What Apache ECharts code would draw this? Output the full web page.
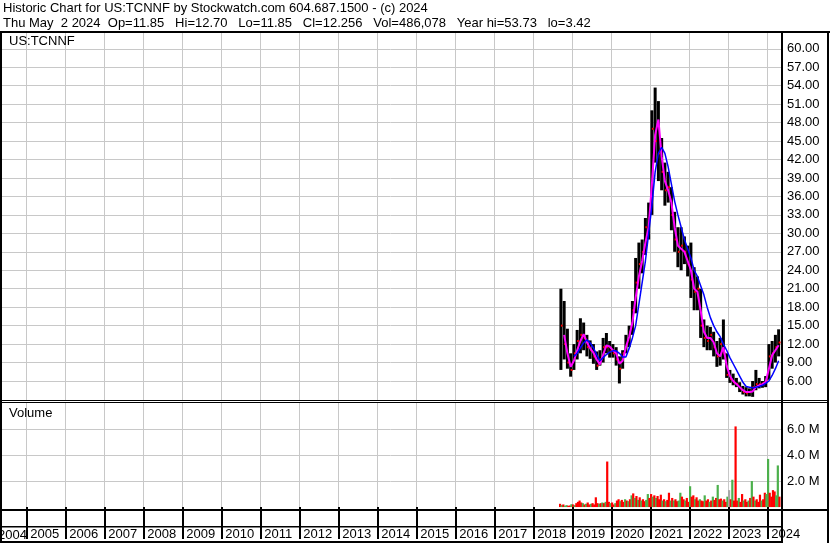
<!DOCTYPE html>
<html>
<head>
<meta charset="utf-8">
<title>US:TCNNF historic chart</title>
<script src="https://cdn.jsdelivr.net/npm/echarts@6/dist/echarts.min.js"></script>
<style>
  html, body { margin: 0; padding: 0; background: #fff; }
  #chart { width: 830px; height: 543px; }
</style>
</head>
<body>
<div id="chart"></div>
<script>
// monthly bars, Sep 2018 .. Apr 2024
const months = [
  '2018-09', '2018-10', '2018-11', '2018-12',
  '2019-01', '2019-02', '2019-03', '2019-04', '2019-05', '2019-06', '2019-07', '2019-08', '2019-09', '2019-10', '2019-11', '2019-12',
  '2020-01', '2020-02', '2020-03', '2020-04', '2020-05', '2020-06', '2020-07', '2020-08', '2020-09', '2020-10', '2020-11', '2020-12',
  '2021-01', '2021-02', '2021-03', '2021-04', '2021-05', '2021-06', '2021-07', '2021-08', '2021-09', '2021-10', '2021-11', '2021-12',
  '2022-01', '2022-02', '2022-03', '2022-04', '2022-05', '2022-06', '2022-07', '2022-08', '2022-09', '2022-10', '2022-11', '2022-12',
  '2023-01', '2023-02', '2023-03', '2023-04', '2023-05', '2023-06', '2023-07', '2023-08', '2023-09', '2023-10', '2023-11', '2023-12',
  '2024-01', '2024-02', '2024-03', '2024-04'
];
const highs = [
  21.0, 19.0, 14.5, 10.5, 12.0, 14.3, 16.2, 15.5, 13.5, 12.6, 12.0, 10.8,
  11.0, 13.0, 13.8, 12.5, 12.0, 11.5, 10.0, 11.0, 13.5, 15.0, 19.0, 26.0,
  28.5, 29.0, 32.5, 35.0, 50.0, 53.7, 51.5, 45.5, 41.5, 40.0, 37.5, 33.5,
  31.0, 31.0, 29.5, 28.0, 28.5, 24.5, 23.0, 21.0, 16.0, 15.0, 14.8, 14.0,
  12.5, 13.0, 16.0, 10.5, 7.8, 7.2, 6.5, 5.8, 5.2, 5.0, 4.8, 6.0,
  7.8, 6.5, 6.0, 6.8, 12.0, 12.5, 13.5, 14.4
];
const lows = [
  7.8, 9.5, 8.0, 6.7, 7.8, 9.5, 10.5, 11.0, 10.0, 9.6, 8.8, 7.8,
  8.5, 9.0, 10.5, 9.8, 9.8, 8.5, 5.6, 8.0, 10.5, 11.5, 13.5, 17.0,
  21.0, 23.5, 26.5, 29.0, 33.0, 41.5, 38.5, 37.0, 34.5, 35.0, 30.5, 27.0,
  24.5, 24.0, 25.0, 23.0, 19.5, 17.5, 17.5, 13.0, 11.5, 11.0, 11.0, 10.0,
  8.3, 8.5, 9.5, 6.5, 5.7, 5.3, 5.0, 4.2, 3.8, 3.5, 3.5, 3.42,
  4.5, 4.8, 4.9, 5.0, 6.2, 8.0, 9.0, 10.0
];
const closes = [
  15.0, 12.0, 9.0, 7.8, 10.5, 12.5, 13.5, 13.0, 11.5, 11.0, 10.0, 8.5,
  9.5, 11.5, 11.5, 10.8, 10.5, 9.5, 8.0, 10.5, 12.0, 14.0, 17.5, 22.0,
  25.0, 27.0, 31.0, 32.5, 47.0, 45.0, 43.0, 40.0, 37.0, 37.5, 33.0, 29.0,
  27.0, 28.0, 27.0, 25.0, 22.5, 20.5, 21.0, 15.0, 13.0, 12.5, 13.5, 11.5,
  10.0, 12.0, 10.5, 7.0, 6.3, 5.8, 5.5, 4.8, 4.2, 4.0, 4.2, 5.0,
  5.5, 5.5, 5.6, 6.2, 10.0, 10.5, 11.5, 12.26
];
// short (magenta) and long (blue) moving averages as drawn
const fastAvg = [
  null, 13.5, 10.5, 8.3, 9.3, 11.0, 12.5, 13.6, 12.3, 11.3, 10.6, 9.5,
  8.7, 10.3, 11.8, 11.6, 11.0, 10.5, 8.8, 9.3, 11.5, 13.2, 15.5, 19.5,
  23.0, 25.5, 28.5, 31.0, 38.0, 46.0, 48.5, 42.5, 38.5, 37.0, 35.0, 31.0,
  28.0, 27.5, 27.0, 25.5, 24.0, 21.0, 20.5, 17.5, 14.0, 13.0, 13.0, 12.3,
  10.5, 10.0, 11.5, 8.5, 6.8, 6.0, 5.5, 5.0, 4.5, 4.2, 4.2, 4.3,
  5.0, 5.3, 5.5, 5.8, 8.0, 10.2, 11.0, 11.8
];
const slowAvg = [
  null, null, null, null, 10.0, 10.5, 11.4, 12.2, 12.7, 12.2, 11.4, 10.3,
  9.3, 9.8, 10.3, 10.7, 10.9, 10.9, 10.5, 9.9, 9.9, 11.3, 13.0, 15.0,
  18.5, 22.0, 25.5, 30.0, 34.5, 40.0, 43.0, 44.0, 43.0, 40.8, 38.0, 35.2,
  33.0, 31.0, 29.0, 27.5, 26.0, 24.0, 23.0, 21.5, 20.0, 18.0, 16.3, 15.0,
  14.0, 13.2, 12.0, 11.0, 9.8, 8.8, 7.8, 6.8, 5.8, 5.1, 5.0, 4.9,
  5.0, 5.1, 5.3, 5.6, 6.0, 6.9, 8.0, 9.3
];

// volume per half month from Sep 2018 (millions), u = up, d = down, n = unchanged
const volumes = [
  0.25, 0.15, 0.2, 0.1, 0.15, 0.1, 0.12, 0.22,
  0.2, 0.15, 0.3, 0.4, 0.5, 0.35, 0.3, 0.2,
  0.25, 0.35, 0.2, 0.25, 0.3, 0.2, 0.75, 0.3,
  0.25, 0.3, 0.35, 0.3, 0.4, 3.5, 0.4, 0.3,
  0.35, 0.2, 0.3, 0.5, 0.6, 0.45, 0.55, 0.4,
  0.6, 0.5, 0.45, 0.6, 0.9, 1.05, 0.7, 0.85,
  0.55, 0.75, 0.5, 0.6, 0.45, 0.55, 1.0, 0.7,
  1.0, 0.8, 0.9, 0.7, 0.85, 0.6, 0.95, 0.5,
  0.6, 0.45, 0.55, 1.1, 0.5, 0.7, 0.5, 0.6,
  0.45, 0.5, 1.1, 0.8, 0.6, 0.5, 0.7, 0.4,
  1.6, 0.8, 0.9, 0.6, 0.75, 0.5, 0.6, 0.5,
  0.45, 0.9, 0.5, 0.6, 0.4, 0.5, 0.8, 0.55,
  0.7, 1.7, 0.6, 0.65, 0.5, 0.6, 0.4, 0.8,
  1.3, 0.6, 2.1, 0.5, 6.2, 0.5, 0.7, 0.4,
  1.0, 0.5, 0.6, 0.4, 0.5, 0.7, 2.0, 0.8,
  0.5, 0.6, 0.4, 0.95, 0.5, 0.6, 1.1, 1.0,
  3.7, 1.1, 0.8, 1.3, 1.2, 0.9, 3.2, 0.8
];
const volDir = [
  'duduudduu'.slice(0, 8), 'duddddud', 'uddudddd', 'udududdu',
  'dduddudd', 'udududud', 'ududduud', 'dududddu',
  'duddudud', 'duuddudd', 'udduddud', 'duddudud',
  'dudduddu', 'ndudddud', 'duddudud', 'uddduddu',
  'udddduud'
].join('').split('');

const years = [2005, 2006, 2007, 2008, 2009, 2010, 2011, 2012, 2013, 2014,
  2015, 2016, 2017, 2018, 2019, 2020, 2021, 2022, 2023, 2024];
const priceTicks = [6, 9, 12, 15, 18, 21, 24, 27, 30, 33, 36, 39, 42, 45, 48, 51, 54, 57, 60];
const volTicks = [2, 4, 6];

const headerLine1 = 'Historic Chart for US:TCNNF by Stockwatch.com 604.687.1500 - (c) 2024';
const headerLine2 = 'Thu May  2 2024  Op=11.85   Hi=12.70   Lo=11.85   Cl=12.256   Vol=486,078   Year hi=53.73   lo=3.42';

const FONT = '"Liberation Sans", Arial, sans-serif';
const GRID_COLOR = '#c8c8c8';
const dirColors = { u: '#4cb04c', d: '#ff0000', n: '#a8a8a8' };

const X_MIN = 2004.326;
const X_MAX = 2024.352;

function monthPos(m) {
  const [y, mo] = m.split('-').map(Number);
  return y + (mo - 0.5) / 12;
}
function halfMonthPos(i) {
  return 2018 + 8 / 12 + (i + 0.5) / 24;
}

const barData = months.map((m, i) => [monthPos(m), highs[i], lows[i], closes[i]]);
const fastData = months.map((m, i) => fastAvg[i] == null ? null : [monthPos(m), fastAvg[i]]).filter(Boolean);
const slowData = months.map((m, i) => slowAvg[i] == null ? null : [monthPos(m), slowAvg[i]]).filter(Boolean);
const volData = volumes.map((v, i) => [halfMonthPos(i), v]);

function renderPriceBar(params, api) {
  const x = api.value(0);
  const hi = api.coord([x, api.value(1)]);
  const lo = api.coord([x, api.value(2)]);
  const cl = api.coord([x, api.value(3)]);
  return {
    type: 'group',
    children: [
      { type: 'rect', shape: { x: hi[0] - 1.5, y: hi[1], width: 3, height: lo[1] - hi[1] }, style: { fill: '#000' } },
      { type: 'rect', shape: { x: cl[0], y: cl[1] - 1, width: 2, height: 2 }, style: { fill: '#ff0000' } }
    ]
  };
}

function renderVolBar(params, api) {
  const x = api.value(0);
  const top = api.coord([x, api.value(1)]);
  const base = api.coord([x, 0]);
  return {
    type: 'rect',
    shape: { x: top[0] - 1.1, y: top[1], width: 2.2, height: base[1] - top[1] },
    style: { fill: dirColors[volDir[params.dataIndex]] }
  };
}

const blackRect = (x, y, w, h) => ({ type: 'rect', shape: { x, y, width: w, height: h }, style: { fill: '#000' }, z: 100 });
const label = (text, x, y) => ({
  type: 'text', x, y, z: 100,
  style: { text, fill: '#000', font: '13px ' + FONT, textVerticalAlign: 'middle' }
});

const chart = echarts.init(document.getElementById('chart'));

const option = {
  animation: false,
  backgroundColor: '#fff',
  title: {
    text: headerLine1 + '\n' + headerLine2,
    left: 3,
    top: 1,
    padding: 0,
    textStyle: { color: '#000', fontSize: 13, fontWeight: 'normal', fontFamily: FONT, lineHeight: 15 }
  },
  grid: [
    { left: 0, right: 49, top: 33, bottom: 143 },
    { left: 0, right: 49, top: 403, bottom: 34 }
  ],
  xAxis: [
    {
      gridIndex: 0, type: 'value', min: X_MIN, max: X_MAX,
      axisLine: { show: false },
      axisTick: { show: false, customValues: years },
      axisLabel: { show: false },
      splitLine: { show: true, lineStyle: { color: GRID_COLOR, width: 1 } }
    },
    {
      gridIndex: 1, type: 'value', min: X_MIN, max: X_MAX,
      axisLine: { show: false },
      axisTick: { show: true, customValues: years, length: 32, lineStyle: { color: '#000', width: 2 } },
      axisLabel: {
        show: true, customValues: years, formatter: v => String(Math.round(v)),
        align: 'left', padding: [0, 0, 0, 4], margin: 19,
        color: '#000', fontSize: 13, fontFamily: FONT
      },
      splitLine: { show: true, lineStyle: { color: GRID_COLOR, width: 1 } }
    }
  ],
  yAxis: [
    {
      gridIndex: 0, type: 'value', position: 'right', min: 2.91, max: 62.57,
      axisLine: { show: false },
      axisTick: { show: false, customValues: priceTicks },
      axisLabel: {
        customValues: priceTicks, formatter: v => v.toFixed(2), margin: 6,
        color: '#000', fontSize: 13, fontFamily: FONT
      },
      splitLine: { show: true, lineStyle: { color: GRID_COLOR, width: 1 } }
    },
    {
      gridIndex: 1, type: 'value', position: 'right', min: -0.15, max: 8.0,
      axisLine: { show: false },
      axisTick: { show: false, customValues: volTicks },
      axisLabel: {
        customValues: volTicks, formatter: v => v.toFixed(1) + ' M', margin: 6,
        color: '#000', fontSize: 13, fontFamily: FONT
      },
      splitLine: { show: true, lineStyle: { color: GRID_COLOR, width: 1 } }
    }
  ],
  series: [
    {
      name: 'Price', type: 'custom', xAxisIndex: 0, yAxisIndex: 0,
      renderItem: renderPriceBar, encode: { x: 0, y: [1, 2, 3] },
      data: barData, clip: true
    },
    {
      name: 'Short MA', type: 'line', xAxisIndex: 0, yAxisIndex: 0,
      data: fastData, showSymbol: false, symbol: 'none',
      lineStyle: { color: '#ff00ff', width: 2 }, z: 3
    },
    {
      name: 'Long MA', type: 'line', xAxisIndex: 0, yAxisIndex: 0,
      data: slowData, showSymbol: false, symbol: 'none',
      lineStyle: { color: '#0000ff', width: 1.5 }, z: 4
    },
    {
      name: 'Volume', type: 'custom', xAxisIndex: 1, yAxisIndex: 1,
      renderItem: renderVolBar, encode: { x: 0, y: 1 },
      data: volData, clip: true
    }
  ],
  graphic: [
    blackRect(0, 31, 830, 2),
    blackRect(0, 31, 2, 512),
    blackRect(827, 31, 2, 512),
    blackRect(781, 31, 2, 512),
    blackRect(0, 400, 829, 1),
    blackRect(0, 402, 829, 1),
    blackRect(0, 509, 829, 2),
    blackRect(0, 526, 783, 1.5),
    blackRect(0, 541, 783, 2),
    label('US:TCNNF', 9, 41),
    label('Volume', 9, 413),
    label('2004', -2, 535)
  ]
};

chart.setOption(option);
</script>
</body>
</html>
